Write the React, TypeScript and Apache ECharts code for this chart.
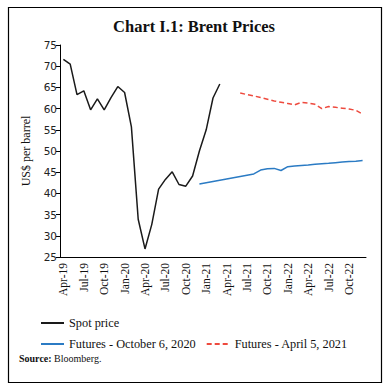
import React, { useEffect, useRef } from "react";
import * as echarts from "echarts";

const months = [
  "Apr-19", "May-19", "Jun-19", "Jul-19", "Aug-19", "Sep-19", "Oct-19", "Nov-19", "Dec-19",
  "Jan-20", "Feb-20", "Mar-20", "Apr-20", "May-20", "Jun-20", "Jul-20", "Aug-20", "Sep-20", "Oct-20", "Nov-20", "Dec-20",
  "Jan-21", "Feb-21", "Mar-21", "Apr-21", "May-21", "Jun-21", "Jul-21", "Aug-21", "Sep-21", "Oct-21", "Nov-21", "Dec-21",
  "Jan-22", "Feb-22", "Mar-22", "Apr-22", "May-22", "Jun-22", "Jul-22", "Aug-22", "Sep-22", "Oct-22", "Nov-22", "Dec-22",
];

// Spot price: Apr-19 .. Mar-21
const spotStart = 0;
const spotValues = [
  71.6, 70.5, 63.3, 64.2, 59.7, 62.3, 59.7, 62.6, 65.2, 63.8, 55.7, 33.9,
  26.9, 32.7, 41.0, 43.3, 45.1, 42.1, 41.7, 44.1, 50.0, 55.0, 62.5, 65.8,
];

// Futures - October 6, 2020: Dec-20 .. Dec-22
const futOctStart = 20;
const futOctValues = [
  42.2, 42.5, 42.8, 43.1, 43.4, 43.7, 44.0, 44.3, 44.6, 45.5, 45.8, 45.9, 45.4,
  46.3, 46.45, 46.6, 46.7, 46.85, 47.0, 47.1, 47.25, 47.4, 47.5, 47.6, 47.75,
];

// Futures - April 5, 2021: Jun-21 .. Dec-22
const futAprStart = 26;
const futAprValues = [
  63.7, 63.3, 63.0, 62.6, 62.2, 61.8, 61.5, 61.2, 60.9, 61.45,
  61.3, 61.0, 60.0, 60.5, 60.3, 60.1, 59.9, 59.6, 58.7,
];

const seriesNames = ["Spot price", "Futures - October 6, 2020", "Futures - April 5, 2021"];

function pad(start: number, values: number[]): (number | null)[] {
  const out: (number | null)[] = months.map(() => null);
  values.forEach((v, i) => {
    out[start + i] = v;
  });
  return out;
}

const SERIF = "'Liberation Serif', 'DejaVu Serif', serif";
const SANS = "'DejaVu Sans', sans-serif";

export default function App() {
  const ref = useRef<HTMLDivElement>(null);
  useEffect(() => {
    if (!ref.current) return;
    const chart = echarts.init(ref.current, null, { renderer: "svg" });
    const legendCommon = {
      left: 40,
      padding: 0,
      itemWidth: 23,
      itemHeight: 12,
      itemGap: 10,
      itemStyle: { opacity: 0 },
      textStyle: { fontFamily: SERIF, fontSize: 12.3, color: "#111" },
    };
    chart.setOption({
      animation: false,
      backgroundColor: "#ffffff",
      grid: { left: 60, right: 20, top: 45, bottom: 134, containLabel: false },
      xAxis: {
        type: "category",
        data: months,
        boundaryGap: true,
        axisLine: { lineStyle: { color: "#000", width: 1 } },
        axisTick: { interval: 2, length: 4, lineStyle: { color: "#000" } },
        axisLabel: {
          interval: 2,
          rotate: 90,
          margin: 6,
          fontFamily: SERIF,
          fontSize: 11.5,
          color: "#111",
        },
        splitLine: { show: false },
      },
      yAxis: {
        type: "value",
        min: 25,
        max: 75,
        interval: 5,
        name: "US$ per barrel",
        nameLocation: "middle",
        nameRotate: 90,
        nameGap: 28,
        nameTextStyle: { fontFamily: SERIF, fontSize: 12, color: "#111" },
        axisLine: { show: true, lineStyle: { color: "#000", width: 1 } },
        axisTick: { show: true, length: 4, lineStyle: { color: "#000" } },
        axisLabel: { fontFamily: SANS, fontSize: 10.5, color: "#222", margin: 3 },
        splitLine: { show: false },
      },
      legend: [
        { ...legendCommon, data: [seriesNames[0]], top: 317 },
        { ...legendCommon, data: [seriesNames[1], seriesNames[2]], top: 338 },
      ],
      series: [
        {
          name: seriesNames[0],
          type: "line",
          data: pad(spotStart, spotValues),
          symbol: "none",
          lineStyle: { color: "#1a1a1a", width: 1.5 },
          itemStyle: { color: "#1a1a1a" },
        },
        {
          name: seriesNames[1],
          type: "line",
          data: pad(futOctStart, futOctValues),
          symbol: "none",
          lineStyle: { color: "#2b7bc4", width: 1.5 },
          itemStyle: { color: "#2b7bc4" },
        },
        {
          name: seriesNames[2],
          type: "line",
          data: pad(futAprStart, futAprValues),
          symbol: "none",
          lineStyle: { color: "#ee4a3e", width: 1.5, type: [5, 3] },
          itemStyle: { color: "#ee4a3e" },
        },
      ],
      graphic: [
        {
          type: "rect",
          shape: { x: 8.5, y: 7.5, width: 373, height: 375 },
          style: { fill: "none", stroke: "#000", lineWidth: 1.2 },
          silent: true,
        },
        {
          type: "text",
          x: 194,
          y: 26,
          style: {
            text: "Chart I.1: Brent Prices",
            fontFamily: SERIF,
            fontWeight: "bold",
            fontSize: 16.5,
            fill: "#111",
            textAlign: "center",
            textVerticalAlign: "middle",
          },
        },
        {
          type: "text",
          x: 19,
          y: 358,
          style: {
            text: "{b|Source:} Bloomberg.",
            rich: {
              b: { fontFamily: SERIF, fontWeight: "bold", fontSize: 10, fill: "#111" },
            },
            fontFamily: SERIF,
            fontSize: 10,
            fill: "#111",
            textVerticalAlign: "middle",
          },
        },
      ],
    });
    return () => chart.dispose();
  }, []);
  return (
    <div
      ref={ref}
      style={{ position: "fixed", left: 0, top: 0, width: 386, height: 391 }}
    />
  );
}
